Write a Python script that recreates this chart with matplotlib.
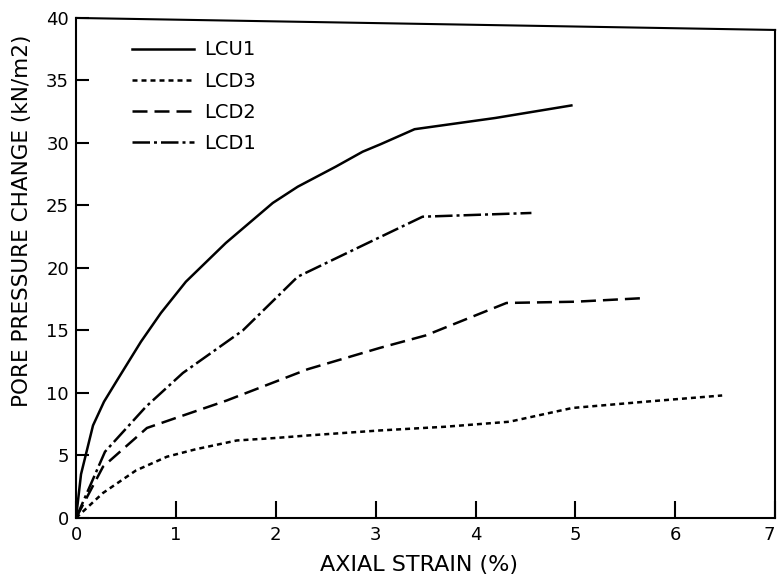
import numpy as np
from matplotlib import pyplot as plt

# values
lcu1_x = [0, 0.05, 0.17, 0.28, 0.41, 0.65, 0.85, 1.1, 1.5, 1.97, 2.22, 2.6, 2.87, 3.05, 3.39, 4.2, 4.96]
lcu1_y = [0, 3.5, 7.4, 9.3, 11.0, 14.1, 16.4, 18.9, 22.0, 25.2, 26.5, 28.1, 29.3, 29.9, 31.1, 32.0, 33.0]

lcd3_x = [0, 0.27, 0.6, 0.91, 1.2, 1.61, 2.0, 2.32, 3.04, 3.7, 4.34, 4.97, 5.7, 6.47]
lcd3_y = [0, 2.0, 3.8, 4.9, 5.5, 6.2, 6.4, 6.6, 7.0, 7.3, 7.7, 8.8, 9.3, 9.8]

lcd2_x = [0, 0.27, 0.71, 1.0, 1.51, 2.32, 3.04, 3.5, 4.31, 5.0, 5.71]
lcd2_y = [0, 4.1, 7.2, 8.0, 9.4, 11.9, 13.6, 14.6, 17.2, 17.3, 17.6]

lcd1_x = [0, 0.29, 0.7, 1.07, 1.67, 2.22, 2.87, 3.47, 4.56]
lcd1_y = [0, 5.3, 8.9, 11.6, 15.0, 19.3, 21.8, 24.1, 24.4]

xticks = [0, 1, 2, 3, 4, 5, 6, 7]
yticks = [0, 5, 10, 15, 20, 25, 30, 35, 40]

plt.rcParams['font.family'] = 'DejaVu Sans'

fig = plt.figure(figsize=(7.79, 5.79), dpi=100)
ax = fig.add_axes([0.0976, 0.1054, 0.8974, 0.8636])

lw = 1.8
ax.plot(lcu1_x, lcu1_y, color='k', lw=lw, ls='-', label='LCU1')
ax.plot(lcd3_x, lcd3_y, color='k', lw=lw, ls=(0, (2, 1.6)), label='LCD3')
ax.plot(lcd2_x, lcd2_y, color='k', lw=lw, ls=(0, (6, 2.8)), label='LCD2')
ax.plot(lcd1_x, lcd1_y, color='k', lw=lw, ls=(0, (7, 1.6, 1.2, 1.6)), label='LCD1')

ax.set_xlim(0, 7)
ax.set_ylim(0, 40)
ax.set_xticks(xticks)
ax.set_yticks(yticks)
ax.tick_params(axis='x', direction='in', length=12, width=1.5, labelsize=13, pad=6)
ax.tick_params(axis='y', direction='in', length=9, width=1.5, labelsize=13, pad=5)
# the last label sits at the very edge of the page
ax.get_xticklabels()[-1].set_ha('right')

for s in ['left', 'bottom', 'right']:
  ax.spines[s].set_linewidth(1.5)
ax.spines['top'].set_visible(False)
# scanned frame is a little skewed at the top
ax.plot([0, 1], [1, 0.976], transform=ax.transAxes, color='k', lw=1.5, clip_on=False)
ax.spines['right'].set_bounds(0, 39.0)

ax.set_xlabel('AXIAL STRAIN (%)', fontsize=16)
ax.set_ylabel('PORE PRESSURE CHANGE (kN/m2)', fontsize=15.5)
ax.xaxis.set_label_coords(0.49, -0.094)
ax.yaxis.set_label_coords(-0.077, 0.594)
ax.xaxis.label.set_va('center')
ax.yaxis.label.set_va('center')

ax.legend(loc='upper left', bbox_to_anchor=(0.08, 0.955), frameon=False, fontsize=14,
          handlelength=3.2, handletextpad=0.5, labelspacing=0.62, borderpad=0, borderaxespad=0)

fig.savefig('out.png', dpi=100)
